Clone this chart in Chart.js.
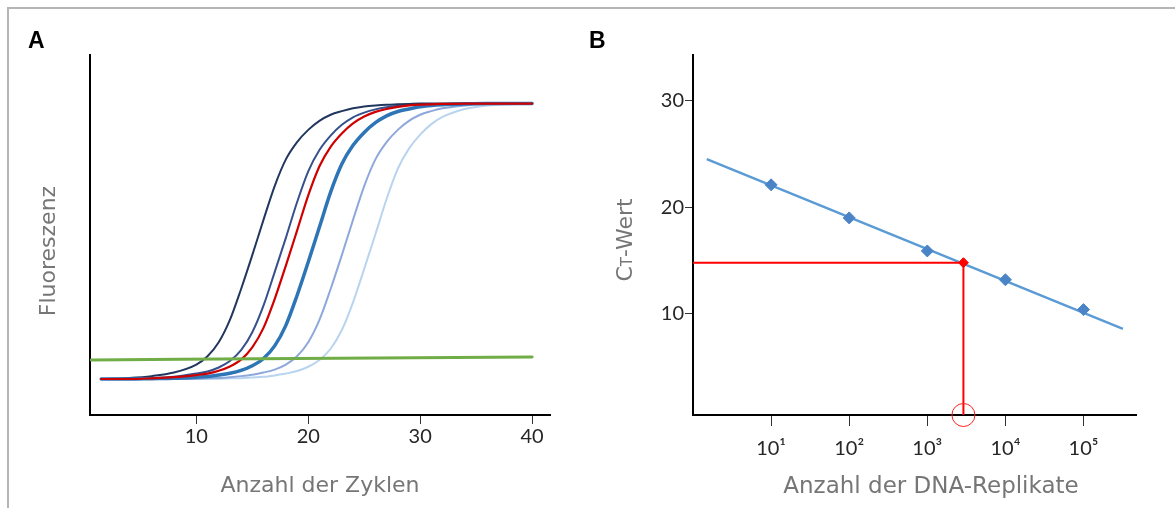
<!DOCTYPE html>
<html>
<head>
<meta charset="utf-8">
<script src="https://cdn.jsdelivr.net/npm/chart.js@4.4.1/dist/chart.umd.min.js"></script>
<style>
  body { margin: 0; width: 1175px; height: 508px; position: relative; overflow: hidden; background: #fff; }
  .frame { position: absolute; left: 7px; top: 7px; width: 1300px; height: 700px; border-top: 2px solid #b5b5b5; border-left: 2px solid #b5b5b5; }
  canvas { position: absolute; top: 0; }
  .panel { position: absolute; font-family: "Liberation Sans", Arial, sans-serif; font-weight: bold; font-size: 23px; line-height: 1; color: #000; }
  .ttl { position: absolute; font-family: "DejaVu Sans", sans-serif; font-size: 22px; line-height: 1; color: #767676; white-space: nowrap; transform: translate(-50%, -50%); }
  .rot { transform: translate(-50%, -50%) rotate(-90deg); }
</style>
</head>
<body>
<div class="frame"></div>
<canvas id="chartA" width="580" height="508" style="left:0"></canvas>
<canvas id="chartB" width="595" height="508" style="left:580px"></canvas>

<div class="panel" style="left:28px; top:29px">A</div>
<div class="panel" style="left:589px; top:29px">B</div>
<div class="ttl rot" style="left:48px; top:251px">Fluoreszenz</div>
<div class="ttl" style="left:320px; top:485px">Anzahl der Zyklen</div>
<div class="ttl rot" style="left:625px; top:240px">C<span style="font-size:0.68em">T</span>-Wert</div>
<div class="ttl" style="left:931px; top:485px; font-size:23px">Anzahl der DNA-Replikate</div>

<script>
// --- Panel A: amplification curves (fluorescence per cycle) ---
const cycles = [1.5, 4, 6, 8, 10, 11, 12, 13, 14, 15, 16, 17, 18, 19, 20, 21, 22, 23, 24, 25, 26, 27, 28, 29, 30, 31, 32, 34, 36, 38, 40];
const curve1 = [10.0, 10.3, 10.8, 11.8, 14.0, 16.3, 20.2, 26.4, 35.0, 44.4, 54.2, 63.6, 71.0, 75.8, 79.2, 81.7, 83.4, 84.4, 85.2, 85.7, 86.0, 86.2, 86.3, 86.4, 86.5, 86.5, 86.5, 86.5, 86.5, 86.5, 86.5];
const curve2 = [10.0, 10.0, 10.2, 10.6, 11.5, 12.1, 13.2, 15.0, 18.0, 23.0, 30.4, 39.7, 49.2, 59.1, 67.7, 73.6, 77.6, 80.6, 82.7, 84.0, 84.9, 85.5, 85.9, 86.1, 86.3, 86.4, 86.4, 86.5, 86.5, 86.5, 86.5];
const curveRed = [10.0, 10.0, 10.2, 10.5, 11.1, 11.5, 12.3, 13.5, 15.4, 18.8, 24.2, 32.2, 41.5, 51.2, 61.0, 69.1, 74.5, 78.2, 81.0, 82.9, 84.2, 85.0, 85.6, 86.0, 86.2, 86.3, 86.4, 86.5, 86.5, 86.5, 86.5];
const curve4 = [10.0, 10.0, 10.1, 10.2, 10.5, 10.7, 11.1, 11.6, 12.4, 13.7, 15.7, 19.2, 24.9, 33.2, 42.5, 52.2, 61.9, 69.7, 74.9, 78.5, 81.2, 83.1, 84.3, 85.0, 85.6, 86.0, 86.2, 86.4, 86.5, 86.5, 86.5];
const curve5 = [10.0, 10.0, 10.0, 10.1, 10.1, 10.2, 10.3, 10.5, 10.8, 11.2, 11.8, 12.6, 14.0, 16.3, 20.2, 26.4, 35.0, 44.4, 54.2, 63.6, 71.0, 75.8, 79.2, 81.7, 83.4, 84.4, 85.2, 86.0, 86.4, 86.5, 86.5];
const curve6 = [10.0, 10.0, 10.0, 10.0, 10.1, 10.1, 10.1, 10.2, 10.2, 10.4, 10.6, 11.0, 11.5, 12.2, 13.4, 15.3, 18.4, 23.6, 31.3, 40.6, 50.2, 60.0, 68.4, 74.0, 77.9, 80.8, 82.8, 85.0, 86.0, 86.3, 86.5];
const thresholdCycles = [0.6, 40];
const thresholdValues = [15.3, 16.1];
const cycleTicks = [10, 20, 30, 40];

// --- Panel B: standard curve ---
const standardCopies = [10, 100, 1000, 10000, 100000];
const standardCt = [22.1, 19.0, 15.9, 13.2, 10.4];
const fitCopies = [1.5, 320000];
const fitCt = [24.5, 8.6];
const sampleCopies = 2900;
const sampleCt = 14.8;
const copyTicks = [10, 100, 1000, 10000, 100000];
const copyTickLabels = ['10¹', '10²', '10³', '10⁴', '10⁵'];
const ctTicks = [10, 20, 30];

function pts(xs, ys) {
    return xs.map((x, i) => ({ x: x, y: ys[i] }));
}

const tickFont = { family: 'Lato', size: 20 };

function curve(data, color, width, order) {
    return {
        data: pts(cycles, data),
        borderColor: color,
        borderWidth: width,
        order: order
    };
}

new Chart(document.getElementById('chartA'), {
    type: 'line',
    data: {
        datasets: [
            { data: pts(thresholdCycles, thresholdValues), borderColor: '#70ad47', borderWidth: 3, order: 0 },
            curve(curveRed, '#d00000', 2.2, 1),
            curve(curve4, '#2e75b6', 3.5, 2),
            curve(curve1, '#22375f', 2, 3),
            curve(curve2, '#36508c', 2, 4),
            curve(curve5, '#8ea8db', 2, 5),
            curve(curve6, '#b9d4ef', 2, 6)
        ]
    },
    options: {
        responsive: false,
        animation: false,
        devicePixelRatio: 1,
        layout: { padding: { left: 0, top: 55, right: 30, bottom: 0 } },
        plugins: { legend: { display: false }, tooltip: { enabled: false } },
        elements: {
            point: { radius: 0 },
            line: { cubicInterpolationMode: 'monotone', borderCapStyle: 'round' }
        },
        scales: {
            x: {
                type: 'linear',
                min: 0.5,
                max: 41.6,
                afterBuildTicks: s => { s.ticks = cycleTicks.map(v => ({ value: v })); },
                afterFit: s => { s.height = 93; },
                ticks: { font: tickFont, color: '#262626', padding: 1 },
                grid: { drawOnChartArea: false, tickLength: 9, tickColor: '#333', tickWidth: 1 },
                border: { color: '#000', width: 2 }
            },
            y: {
                min: 0,
                max: 100,
                ticks: { display: false },
                grid: { drawOnChartArea: false, drawTicks: false },
                border: { color: '#000', width: 2 },
                afterFit: s => { s.width = 90; }
            }
        }
    }
});

const yMinB = 0.52;

new Chart(document.getElementById('chartB'), {
    type: 'line',
    data: {
        datasets: [
            {   // measured sample marker circle on the x axis
                data: [{ x: sampleCopies, y: yMinB }],
                showLine: false,
                pointStyle: 'circle',
                pointRadius: 11.5,
                pointBackgroundColor: 'rgba(0,0,0,0)',
                pointBorderColor: '#ff2020',
                pointBorderWidth: 1,
                clip: false,
                order: 0
            },
            {
                data: [{ x: sampleCopies, y: sampleCt }],
                showLine: false,
                pointStyle: 'rectRot',
                pointRadius: 5,
                pointBackgroundColor: '#ff0000',
                pointBorderColor: '#ff0000',
                order: 1
            },
            {
                data: pts(standardCopies, standardCt),
                showLine: false,
                pointStyle: 'rectRot',
                pointRadius: 6,
                pointBackgroundColor: '#4a84c6',
                pointBorderColor: '#4a84c6',
                pointBorderWidth: 1,
                order: 2
            },
            {   // guide lines from the Ct value to the copy number
                data: [{ x: 1, y: sampleCt }, { x: sampleCopies, y: sampleCt }, { x: sampleCopies, y: yMinB }],
                borderColor: '#ff0000',
                borderWidth: 2,
                pointRadius: 0,
                order: 3
            },
            {
                data: pts(fitCopies, fitCt),
                borderColor: '#5b9bd5',
                borderWidth: 2.5,
                pointRadius: 0,
                order: 4
            }
        ]
    },
    options: {
        responsive: false,
        animation: false,
        devicePixelRatio: 1,
        layout: { padding: { left: 0, top: 55, right: 39, bottom: 0 } },
        plugins: { legend: { display: false }, tooltip: { enabled: false } },
        scales: {
            x: {
                type: 'logarithmic',
                min: 1,
                max: 470000,
                afterBuildTicks: s => { s.ticks = copyTicks.map(v => ({ value: v })); },
                afterFit: s => { s.height = 93; },
                ticks: { font: tickFont, color: '#262626', padding: 11, callback: (v, i) => copyTickLabels[i] },
                grid: { drawOnChartArea: false, tickLength: 11, tickColor: '#333', tickWidth: 1 },
                border: { color: '#000', width: 2 }
            },
            y: {
                min: yMinB,
                max: 34.27,
                afterBuildTicks: s => { s.ticks = ctTicks.map(v => ({ value: v })); },
                afterFit: s => { s.width = 113; },
                ticks: { font: tickFont, color: '#262626', padding: 1 },
                grid: { drawOnChartArea: false, tickLength: 8, tickColor: '#333', tickWidth: 1 },
                border: { color: '#000', width: 2 }
            }
        }
    }
});
</script>
</body>
</html>
